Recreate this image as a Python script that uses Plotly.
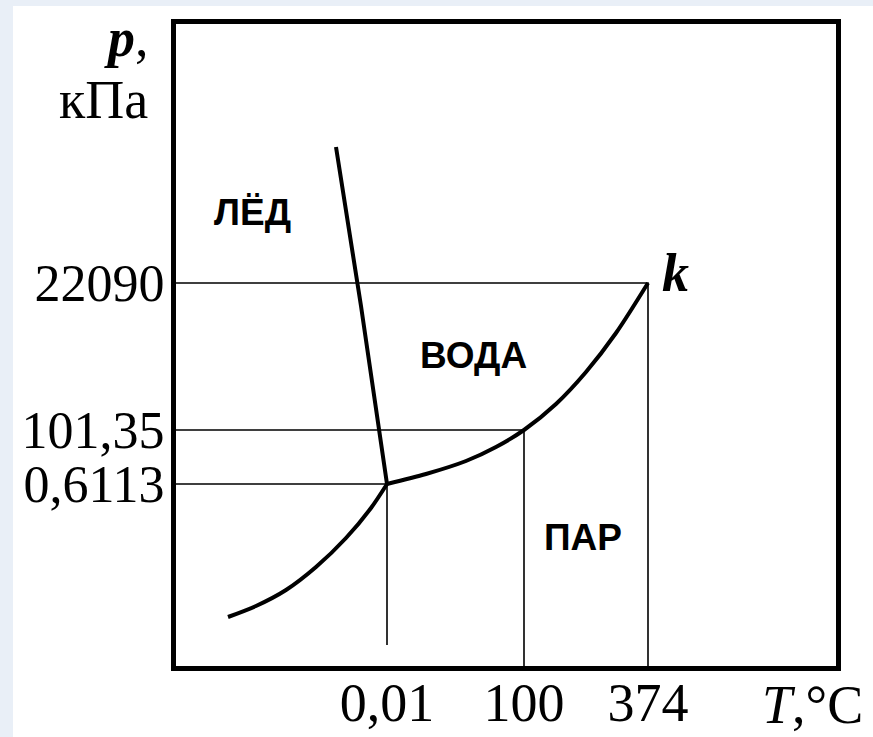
import plotly.graph_objects as go

# Schematic diagram coordinates (arbitrary diagram units)
# Melting curve (ice / water)
melt_T = [160, 185, 211]
melt_p = [519, 360, 182]
# Sublimation curve (ice / vapour)
subl_T = [52, 80, 110, 140, 170, 195, 211]
subl_p = [49, 60, 76, 99, 128, 158, 182]
# Vaporization curve (water / vapour), triple point -> critical point k
vap_T = [211, 250, 290, 320, 348, 380, 410, 440, 472]
vap_p = [182, 192, 205, 219, 236, 262, 294, 333, 383]

# Key points: triple point, normal boiling point, critical point
key_T = [211, 348, 472]
key_p = [182, 236, 383]
key_T_labels = ["0,01", "100", "374"]
key_p_labels = ["0,6113", "101,35", "22090"]
key_T_bottom = [21, 0, 0]

region_names = ["ЛЁД", "ВОДА", "ПАР"]
region_T = [76, 297, 407]
region_p = [454, 311, 129]

fig = go.Figure()

thick = dict(color="black", width=4, shape="spline", smoothing=0.8)
thin = dict(color="black", width=1.6)

# guide lines
for T, p, b in zip(key_T, key_p, key_T_bottom):
    fig.add_trace(go.Scatter(x=[0, T, T], y=[p, p, b], mode="lines",
                             line=thin, hoverinfo="skip", showlegend=False))

fig.add_trace(go.Scatter(x=melt_T, y=melt_p, mode="lines", line=thick, showlegend=False))
fig.add_trace(go.Scatter(x=subl_T, y=subl_p, mode="lines", line=thick, showlegend=False))
fig.add_trace(go.Scatter(x=vap_T, y=vap_p, mode="lines", line=thick, showlegend=False))

for name, T, p in zip(region_names, region_T, region_p):
    fig.add_annotation(x=T, y=p, text="<b>" + name + "</b>", showarrow=False,
                       font=dict(family="Liberation Sans", size=37, color="black"))

fig.add_annotation(x=key_T[2] + 27, y=key_p[2] + 10, text="<b><i>k</i></b>", showarrow=False,
                   font=dict(family="Liberation Serif", size=54, color="black"))

serif = dict(family="Liberation Serif", size=54, color="black")
tickserif = dict(family="Liberation Serif", size=52, color="black")
W, H = 660, 642
def px(x):
    return (x - 176) / W
def py(y):
    return (666 - y) / H

for txt, x, y in [("<b><i>p</i></b>,", 126, 38), ("кПа", 103, 100), ("<i>T</i>,°C", 812, 705)]:
    fig.add_annotation(xref="paper", yref="paper", x=px(x), y=py(y), text=txt,
                       xanchor="center", yanchor="middle", showarrow=False, font=serif)

# white page over a light blue slide background
fig.add_shape(type="rect", xref="paper", yref="paper", x0=px(13), x1=px(900),
              y0=py(800), y1=py(6), fillcolor="white", line=dict(width=0), layer="below")

fig.update_xaxes(range=[0, W], tickvals=key_T, ticktext=key_T_labels, tickfont=serif,
                 showgrid=False, zeroline=False, showline=True, linecolor="black",
                 linewidth=5, mirror=True, ticks="", ticklabelstandoff=-15, automargin=False)
fig.update_yaxes(range=[0, H], tickvals=key_p, ticktext=key_p_labels, tickfont=tickserif,
                 showgrid=False, zeroline=False, showline=True, linecolor="black",
                 linewidth=5, mirror=True, ticks="", ticklabelstandoff=-4, automargin=False)

fig.update_layout(width=873, height=737, margin=dict(l=176, r=37, t=24, b=71),
                  paper_bgcolor="#e9eff7", plot_bgcolor="white", showlegend=False)

fig.write_html("out.html", config={"displayModeBar": False},
               post_script="document.body.style.margin='0';")
